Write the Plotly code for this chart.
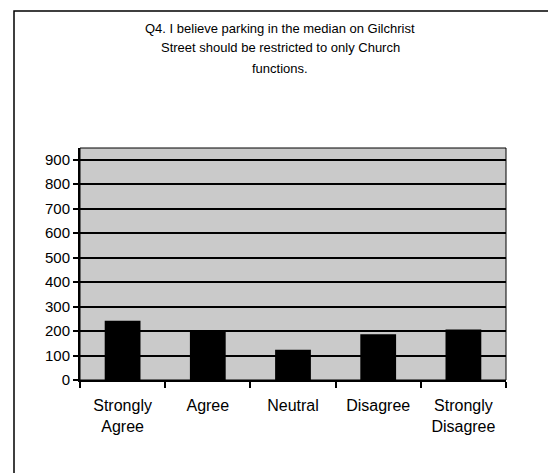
import plotly.graph_objects as go

categories = ["Strongly<br>Agree", "Agree", "Neutral", "Disagree", "Strongly<br>Disagree"]
values = [242, 204, 124, 187, 206]
y_ticks = [0, 100, 200, 300, 400, 500, 600, 700, 800, 900]
title_lines = ["Q4. I believe parking in the median on Gilchrist",
               "Street should be restricted to only Church",
               "functions."]

W, H = 556, 473
L, R, T, B = 72, 58, 140, 101
pw, ph = W - L - R, H - T - B

def px_x(p):
    return (p - L) / pw

def px_y(p):
    return (H - B - p) / ph

fig = go.Figure(go.Bar(x=categories, y=values, marker=dict(color="black", line=dict(width=0)),
                       width=0.42))

font = "Liberation Sans, Arial, sans-serif"
fig.update_layout(
    width=W, height=H,
    margin=dict(l=L, r=R, t=T, b=B),
    paper_bgcolor="white",
    plot_bgcolor="#cacaca",
    showlegend=False,
    font=dict(family=font, size=16, color="black"),
)
for i, line in enumerate(title_lines):
    fig.add_annotation(text=line, xref="paper", yref="paper", x=px_x(272), y=px_y(20 + 20 * i),
                       xanchor="center", yanchor="middle", showarrow=False,
                       font=dict(family=font, size=13, color="black"))

fig.update_yaxes(range=[0, 948], tickvals=y_ticks, showgrid=True, gridcolor="black", gridwidth=1.6,
                 ticks="outside", ticklen=5, tickwidth=1.5, tickcolor="black",
                 showline=True, linecolor="black", linewidth=2, mirror=False,
                 zeroline=False, ticklabelstandoff=0,
                 tickfont=dict(family=font, size=15, color="black"), fixedrange=True)
fig.update_xaxes(tickson="boundaries", ticks="outside", ticklen=6, tickwidth=1.5, tickcolor="black",
                 showline=True, linecolor="black", linewidth=2, showgrid=False,
                 ticklabelstandoff=10,
                 tickfont=dict(family=font, size=16, color="black"), fixedrange=True)

# plot area border (top/right)
fig.add_shape(type="rect", xref="paper", yref="paper", x0=0, x1=1, y0=0, y1=1,
              line=dict(color="black", width=1), layer="above")
# chart area border
fig.add_shape(type="rect", xref="paper", yref="paper",
              x0=px_x(6), x1=px_x(553), y0=px_y(490), y1=px_y(3),
              line=dict(color="black", width=1.5))

fig.write_html("out.html")
